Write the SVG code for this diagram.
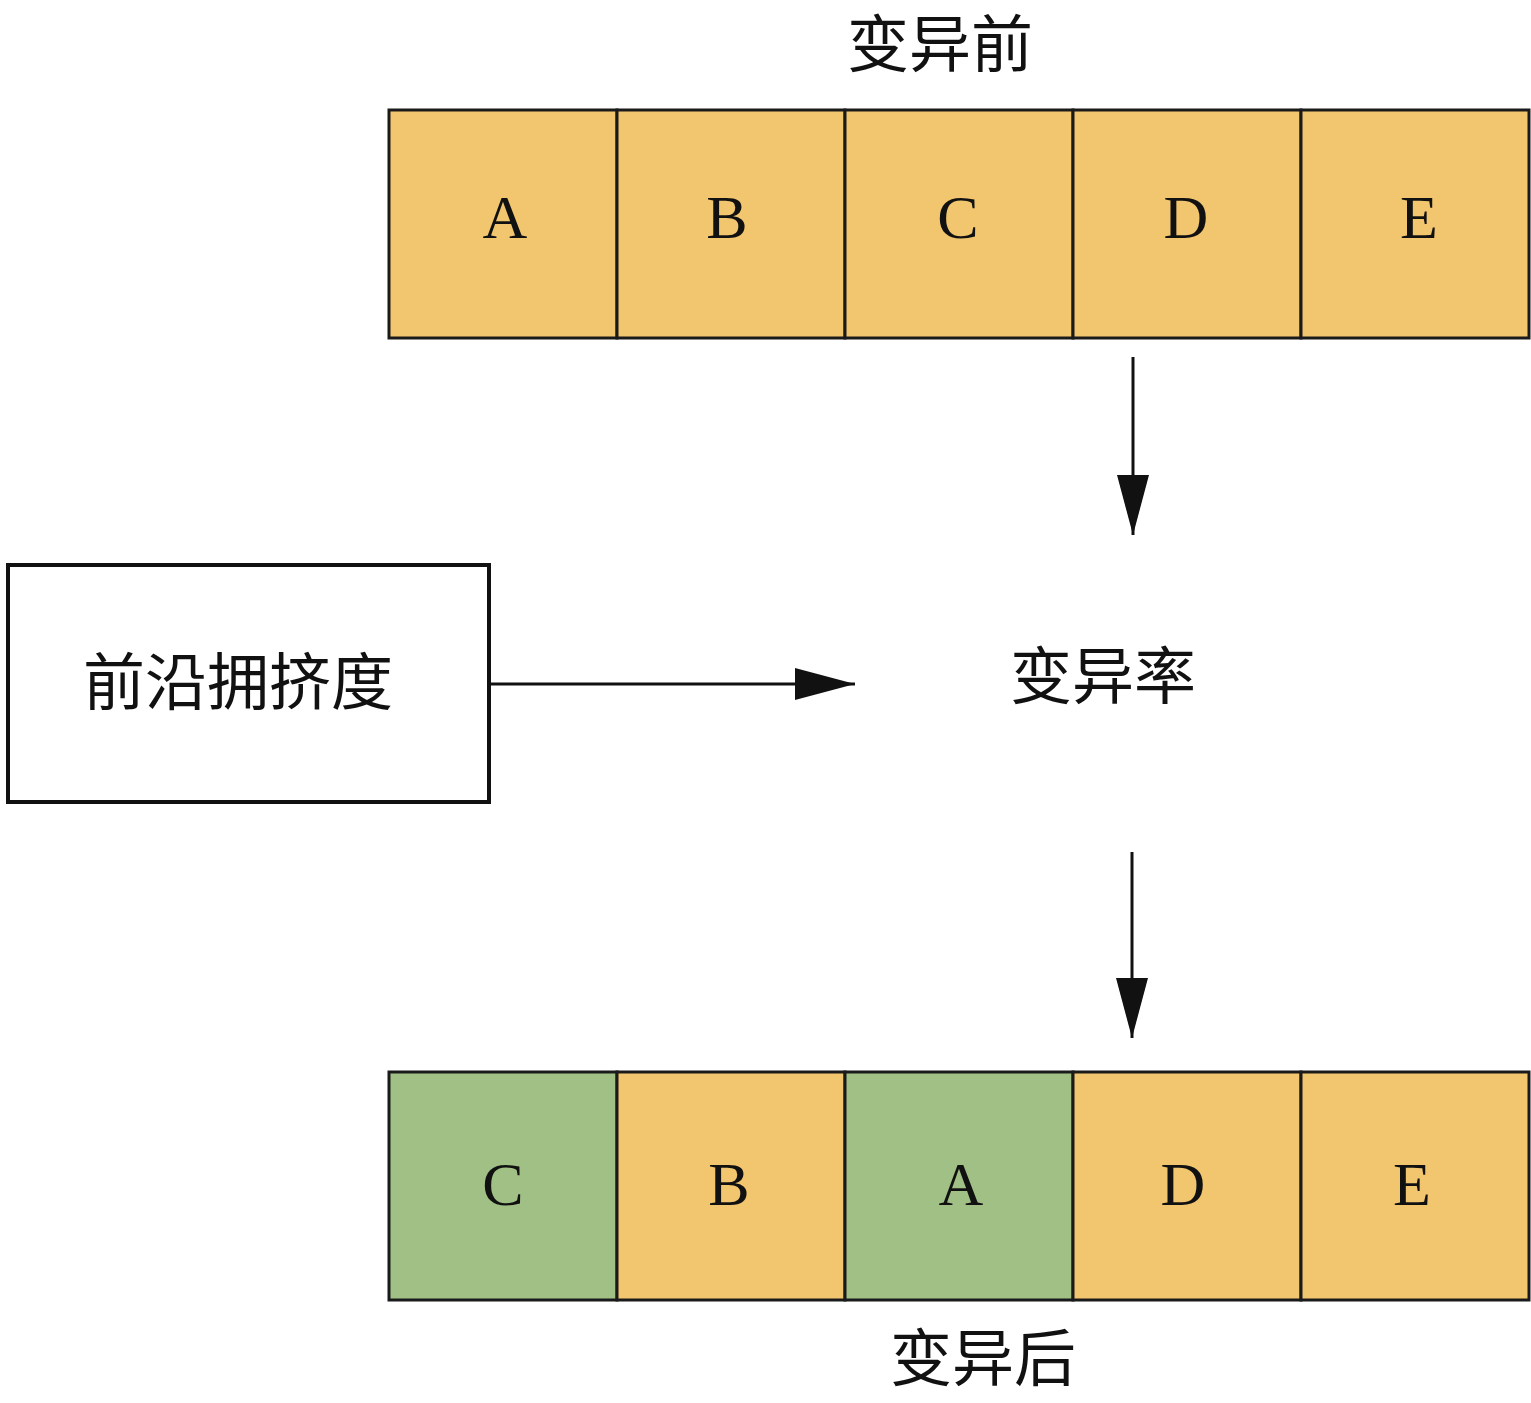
<svg xmlns="http://www.w3.org/2000/svg" width="1531" height="1403" viewBox="0 0 1531 1403">
<style>
.cell{stroke:#1a1a1a;stroke-width:3}
.o{fill:#F2C66E}
.g{fill:#A0C085}
.lt{font-family:"Liberation Serif",serif;font-size:62px;fill:#111;text-anchor:middle}
.cj{font-family:"Liberation Serif","Noto Sans CJK SC",serif;font-size:62px;fill:#111;text-anchor:middle}
.ln{stroke:#111;stroke-width:3;fill:none}
</style>
<defs>
<marker id="ah" viewBox="0 0 60 32" refX="60" refY="16" markerWidth="60" markerHeight="32" markerUnits="userSpaceOnUse" orient="auto">
<path d="M0,0 L60,16 L0,32 Z" fill="#111"/>
</marker>
</defs>
<rect width="1531" height="1403" fill="#fff"/>
<text class="cj" x="940" y="67">变异前</text>
<g id="before">
<g id="b1"><rect class="cell o" x="389" y="110" width="228" height="228"/><text class="lt" x="505" y="238">A</text></g>
<g id="b2"><rect class="cell o" x="617" y="110" width="228" height="228"/><text class="lt" x="727" y="238">B</text></g>
<g id="b3"><rect class="cell o" x="845" y="110" width="228" height="228"/><text class="lt" x="958" y="238">C</text></g>
<g id="b4"><rect class="cell o" x="1073" y="110" width="228" height="228"/><text class="lt" x="1186" y="238">D</text></g>
<g id="b5"><rect class="cell o" x="1301" y="110" width="228" height="228"/><text class="lt" x="1419" y="238">E</text></g>
</g>
<g id="crowding">
<rect x="8" y="565" width="481" height="237" fill="#fff" stroke="#111" stroke-width="4"/>
<text class="cj" x="238" y="705">前沿拥挤度</text>
</g>
<g id="rate"><text class="cj" x="1103" y="699">变异率</text></g>
<g id="connectors">
<line class="ln" x1="1133" y1="357" x2="1133" y2="535" marker-end="url(#ah)"/>
<line class="ln" x1="490" y1="684" x2="855" y2="684" marker-end="url(#ah)"/>
<line class="ln" x1="1132" y1="852" x2="1132" y2="1038" marker-end="url(#ah)"/>
</g>
<g id="after">
<g id="a1"><rect class="cell g" x="389" y="1072" width="228" height="228"/><text class="lt" x="503" y="1205">C</text></g>
<g id="a2"><rect class="cell o" x="617" y="1072" width="228" height="228"/><text class="lt" x="729" y="1205">B</text></g>
<g id="a3"><rect class="cell g" x="845" y="1072" width="228" height="228"/><text class="lt" x="961" y="1205">A</text></g>
<g id="a4"><rect class="cell o" x="1073" y="1072" width="228" height="228"/><text class="lt" x="1183" y="1205">D</text></g>
<g id="a5"><rect class="cell o" x="1301" y="1072" width="228" height="228"/><text class="lt" x="1412" y="1205">E</text></g>
</g>
<text class="cj" x="983" y="1381">变异后</text>
</svg>
